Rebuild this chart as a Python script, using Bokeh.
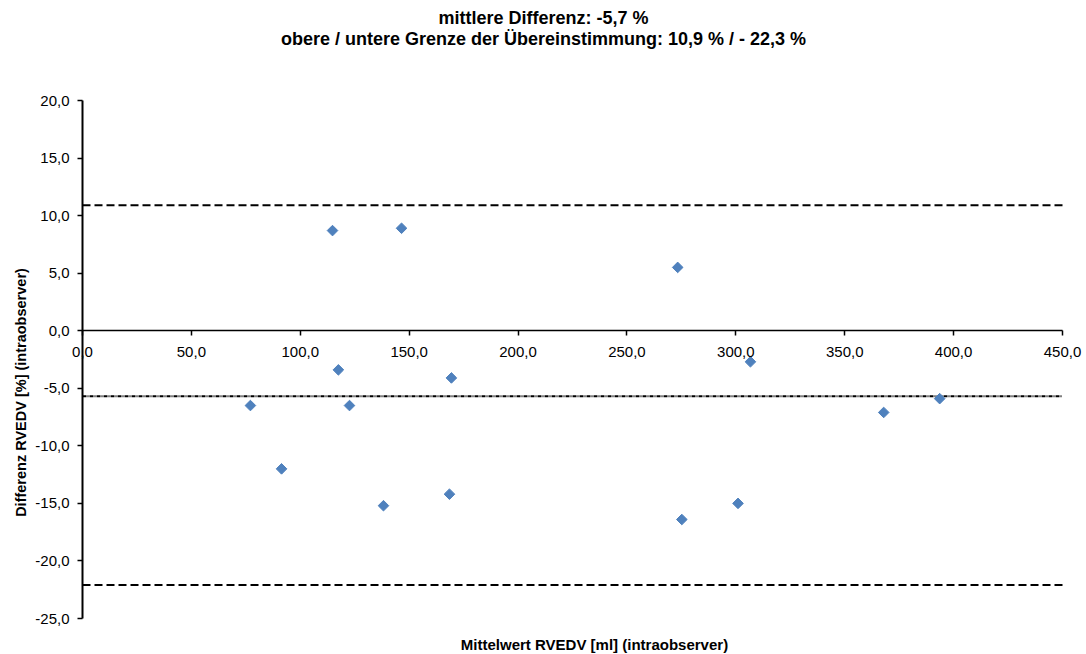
import numpy as np
from bokeh.plotting import figure
from bokeh.models import (Range1d, CustomJSTickFormatter, FixedTicker, Label,
                          ColumnDataSource)
from bokeh.embed import file_html
from bokeh.resources import INLINE

# ---- data ----
mean_rvedv = [77.1, 91.4, 114.8, 117.5, 122.6, 138.2, 146.5, 168.5, 169.4,
              273.3, 275.2, 301.0, 306.7, 367.9, 393.6]
diff_rvedv = [-6.5, -12.0, 8.7, -3.4, -6.5, -15.2, 8.9, -14.2, -4.1,
              5.5, -16.4, -15.0, -2.7, -7.1, -5.9]
limit_values = [10.9, -5.7, -22.1]          # upper limit, mean difference, lower limit
limit_dashes = ["8 4", "4 1 1 1", "8 4"]
x_ticks = [0, 50, 100, 150, 200, 250, 300, 350, 400, 450]
y_ticks = [-25, -20, -15, -10, -5, 0, 5, 10, 15, 20]
title_lines = ["mittlere Differenz: -5,7 %",
               "obere / untere Grenze der Übereinstimmung: 10,9 % / - 22,3 %"]
x_label = "Mittelwert RVEDV [ml] (intraobserver)"
y_label = "Differenz RVEDV [%] (intraobserver)"

FONT = "Liberation Sans"
W, H = 1086, 654
# plot area in pixels: x 82..1062, y 100..618 (from top)
x0, x1 = x_ticks[0], x_ticks[-1]
y0, y1 = y_ticks[0], y_ticks[-1]
sx = (1062 - 82) / (x1 - x0)
sy = (618 - 100) / (y1 - y0)
x_range = Range1d(x0 - 82 / sx, x1 + (W - 1062) / sx)
y_range = Range1d(y0 - (H - 618) / sy, y1 + 100 / sy)

p = figure(width=W, height=H, output_backend="svg", toolbar_location=None,
           x_range=x_range, y_range=y_range, min_border=0,
           background_fill_color="white", border_fill_color="white")
p.outline_line_color = None
p.grid.visible = False

fmt = CustomJSTickFormatter(code="return tick.toFixed(1).replace('.', ',');")

xa = p.xaxis[0]
xa.fixed_location = 0
xa.bounds = (x0, x1)
xa.ticker = FixedTicker(ticks=x_ticks)
xa.formatter = fmt
xa.axis_line_color = "black"
xa.axis_line_width = 1.5
xa.major_tick_line_color = "black"
xa.major_tick_line_width = 1.5
xa.major_tick_out = 5
xa.major_tick_in = 0
xa.minor_tick_line_color = None
xa.major_label_text_font = FONT
xa.major_label_text_font_size = "15px"
xa.major_label_text_color = "black"
xa.major_label_standoff = 11

ya = p.yaxis[0]
ya.fixed_location = 0
ya.bounds = (y0, y1)
ya.ticker = FixedTicker(ticks=y_ticks)
ya.formatter = fmt
ya.axis_line_color = "black"
ya.axis_line_width = 2
ya.major_tick_line_color = "black"
ya.major_tick_line_width = 1.5
ya.major_tick_out = 5
ya.major_tick_in = 0
ya.minor_tick_line_color = None
ya.major_label_text_font = FONT
ya.major_label_text_font_size = "15px"
ya.major_label_text_color = "black"
ya.major_label_standoff = 8

# limit lines spanning the x axis extent
for val, dash in zip(limit_values, limit_dashes):
    p.line([x0, x1], [val, val], line_color="black", line_width=2, line_dash=dash)

src = ColumnDataSource(data=dict(x=mean_rvedv, y=diff_rvedv))
p.scatter("x", "y", source=src, marker="square", size=7.5, angle=np.pi / 4,
          fill_color="#4F81BD", line_color="#4F81BD", line_width=1)

def lab(x, y, text, size, angle=0.0):
    p.add_layout(Label(x=x, y=y, x_units="screen", y_units="screen", text=text,
                       text_font=FONT, text_font_size=size, text_font_style="bold",
                       text_align="center", text_baseline="middle",
                       text_color="black", angle=angle))

lab(543, H - 17, title_lines[0], "18px")
lab(543, H - 38, title_lines[1], "18px")
lab(594, H - 644, x_label, "15px")
lab(20, H - 392, y_label, "14.5px", np.pi / 2)

open("out.html", "w").write(file_html(p, INLINE))
